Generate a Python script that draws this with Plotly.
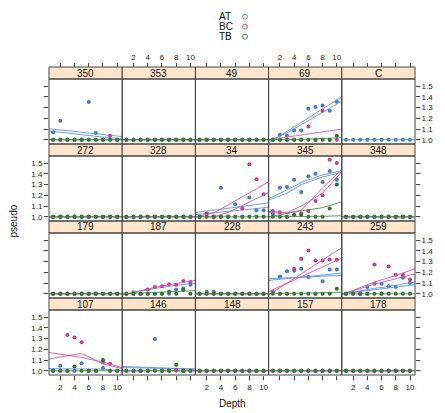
import plotly.graph_objects as go

W, H = 445, 413

# ---------------- data ----------------
panel_names = ["350", "353", "49", "69", "C",
               "272", "328", "34", "345", "348",
               "179", "187", "228", "243", "259",
               "107", "146", "148", "157", "178"]
depth = [1, 2, 3, 4, 5, 6, 7, 8, 9, 10]
groups = ["AT", "BC", "TB"]
group_colors = {"AT": "#4479c4", "BC": "#c63a9c", "TB": "#2f6f2f"}
line_colors = {"AT": "#5f93d6", "BC": "#cc58ab", "TB": "#429042"}
panel_groups = {"C": ["AT"]}          # all other panels hold all three groups
baseline = 1.0

AT_pts = {
    "350": [1.07, 1.178, 1.0, 1.0, 1.0, 1.352, 1.063, 1.0, 1.0, 1.0],
    "69":  [1.0, 1.047, 1.04, 1.087, 1.087, 1.29, 1.305, 1.32, 1.27, 1.355],
    "34":  [1.0, 1.03, 1.0, 1.27, 1.0, 1.118, 1.0, 1.18, 1.06, 1.06],
    "345": [1.025, 1.27, 1.278, 1.346, 1.23, 1.377, 1.40, 1.324, 1.426, 1.346],
    "187": [1.0, 1.015, 1.0, 1.0, 1.0, 1.0, 1.0, 1.04, 1.05, 1.085],
    "228": [1.0, 1.02, 1.02, 1.0, 1.0, 1.0, 1.0, 1.0, 1.0, 1.0],
    "243": [1.02, 1.162, 1.21, 1.215, 1.233, 1.156, 1.0, 1.116, 1.227, 1.227],
    "259": [1.0, 1.008, 1.0, 1.063, 1.094, 1.094, 1.07, 1.063, 1.15, 1.103],
    "107": [1.0, 1.046, 1.0, 1.0, 1.07, 1.0, 1.0, 1.025, 1.0, 1.0],
    "146": [1.0, 1.0, 1.0, 1.0, 1.296, 1.0, 1.0, 1.0, 1.0, 1.0],
}
BC_pts = {
    "350": [1.0, 1.0, 1.0, 1.0, 1.0, 1.0, 1.0, 1.0, 1.037, 1.0],
    "69":  [1.0, 1.0, 1.0, 1.0, 1.0, 1.125, 1.0, 1.27, 1.0, 1.0],
    "34":  [1.0, 1.03, 1.0, 1.0, 1.0, 1.0, 1.078, 1.49, 1.35, 1.21],
    "345": [1.055, 1.043, 1.0, 1.02, 1.03, 1.055, 1.148, 1.20, 1.53, 1.50],
    "187": [1.0, 1.0, 1.0, 1.04, 1.063, 1.07, 1.088, 1.085, 1.12, 1.11],
    "243": [1.017, 1.0, 1.0, 1.233, 1.326, 1.403, 1.31, 1.31, 1.32, 1.316],
    "259": [1.0, 1.0, 1.0, 1.0, 1.273, 1.0, 1.254, 1.177, 1.177, 1.133],
    "107": [1.0, 1.0, 1.333, 1.31, 1.265, 1.0, 1.0, 1.08, 1.065, 1.0],
    "146": [1.0, 1.0, 1.0, 1.0, 1.0, 1.0, 1.0, 1.01, 1.0, 1.0],
}
TB_pts = {
    "69":  [1.0, 1.0, 1.0, 1.0, 1.0, 1.0, 1.0, 1.0, 1.0, 1.037],
    "345": [1.0, 1.0, 1.0, 1.015, 1.02, 1.0, 1.0, 1.0, 1.077, 1.30],
    "187": [1.0, 1.0, 1.0, 1.0, 1.0, 1.0, 1.02, 1.0, 1.035, 1.0],
    "243": [1.0, 1.0, 1.0, 1.0, 1.0, 1.0, 1.0, 1.0, 1.0, 1.048],
    "107": [1.0, 1.0, 1.0, 1.04, 1.0, 1.0, 1.0, 1.10, 1.0, 1.0],
    "146": [1.0, 1.0, 1.0, 1.0, 1.0, 1.0, 1.0, 1.056, 1.0, 1.0],
}

# fitted curves, evaluated at line_x
line_x = [0.4, 3, 5, 8, 10.7]
AT_lines = {
    "350": [[1.103, 1.085, 1.07, 1.05, 1.03], [1.082, 1.062, 1.045, 1.025, 1.01]],
    "69":  [[0.97, 1.08, 1.165, 1.29, 1.40], [0.99, 1.065, 1.14, 1.255, 1.36]],
    "34":  [[1.04, 1.06, 1.08, 1.105, 1.13], [1.02, 1.035, 1.05, 1.07, 1.09]],
    "345": [[1.17, 1.25, 1.32, 1.39, 1.43], [1.155, 1.22, 1.30, 1.37, 1.415]],
    "187": [[0.99, 1.025, 1.05, 1.08, 1.10]],
    "243": [[1.125, 1.14, 1.155, 1.175, 1.193], [1.14, 1.148, 1.155, 1.165, 1.172]],
    "259": [[1.0, 1.03, 1.05, 1.08, 1.11], [1.0, 1.02, 1.035, 1.06, 1.085]],
    "107": [[1.02, 1.02, 1.02, 1.015, 1.0]],
    "146": [[1.04, 1.035, 1.03, 1.022, 1.016], [1.03, 1.027, 1.024, 1.02, 1.016]],
}
BC_lines = {
    "69":  [[1.0, 1.025, 1.045, 1.075, 1.10]],
    "34":  [[1.0, 1.036, 1.11, 1.225, 1.326], [1.0, 1.0, 1.04, 1.14, 1.226]],
    "345": [[1.04, 1.035, 1.06, 1.27, 1.44], [1.05, 1.04, 1.10, 1.22, 1.42]],
    "187": [[0.99, 1.03, 1.06, 1.095, 1.125]],
    "243": [[0.989, 1.10, 1.186, 1.314, 1.43], [1.019, 1.098, 1.159, 1.25, 1.332]],
    "259": [[0.99, 1.06, 1.11, 1.17, 1.233], [0.995, 1.05, 1.09, 1.14, 1.186]],
    "107": [[1.17, 1.145, 1.125, 1.08, 1.03], [1.11, 1.14, 1.162, 1.065, 1.02]],
}
TB_lines = {
    "69":  [[1.0, 1.0, 1.005, 1.012, 1.02]],
    "345": [[1.0, 1.035, 1.055, 1.085, 1.14], [1.0, 1.0, 1.0, 1.005, 1.01]],
    "187": [[1.0, 1.008, 1.013, 1.022, 1.03]],
    "243": [[1.0, 1.002, 1.005, 1.01, 1.015]],
}
pts = {"AT": AT_pts, "BC": BC_pts, "TB": TB_pts}
lines = {"AT": AT_lines, "BC": BC_lines, "TB": TB_lines}

x_ticks = [2, 4, 6, 8, 10]
y_ticks = [1.0, 1.1, 1.2, 1.3, 1.4, 1.5]
y_tick_text = ["1.0", "1.1", "1.2", "1.3", "1.4", "1.5"]
x_range = [0.41, 10.7]
y_range = [0.961, 1.566]

# ---------------- layout geometry (pixels) ----------------
LEFT, COLW = 49, 73.2
TOP, ROWH, STRIPH = 67, 77, 12
FONT = "Liberation Sans, Arial, sans-serif"
FRAME = "#444444"


def ax_id(k):
    return "" if k == 1 else str(k)


fig = go.Figure()
shapes, annotations = [], []
layout = {}

for i, name in enumerate(panel_names):
    r, c = divmod(i, 5)
    k = i + 1
    sid = ax_id(k)
    xl = LEFT + c * COLW
    xr = xl + COLW
    st = TOP + r * ROWH
    pt = st + STRIPH
    pb = st + ROWH
    xa = dict(domain=[xl / W, xr / W], range=x_range, showgrid=False, zeroline=False,
              showline=False, tickvals=x_ticks, ticktext=[str(v) for v in x_ticks],
              tickfont=dict(family=FONT, size=8, color="#222"), ticklen=4,
              tickcolor=FRAME, tickwidth=1)
    if r == 0:
        xa.update(side="top", anchor="free", position=1 - st / H, ticks="outside",
                  showticklabels=(c in (1, 3)))
    elif r == 3:
        xa.update(side="bottom", anchor=f"y{sid}", ticks="outside",
                  showticklabels=(c in (0, 2, 4)))
    else:
        xa.update(ticks="", showticklabels=False, anchor=f"y{sid}")
    ya = dict(domain=[1 - pb / H, 1 - pt / H], range=y_range, showgrid=False, zeroline=False,
              showline=False, tickvals=y_ticks, ticktext=y_tick_text,
              tickfont=dict(family=FONT, size=8, color="#222"), ticklen=4,
              tickcolor=FRAME, tickwidth=1, anchor=f"x{sid}")
    if c == 0:
        ya.update(side="left", ticks="outside", showticklabels=(r in (1, 3)))
    elif c == 4:
        ya.update(side="right", ticks="outside", showticklabels=(r in (0, 2)))
    else:
        ya.update(ticks="", showticklabels=False)
    layout[f"xaxis{sid}"] = xa
    layout[f"yaxis{sid}"] = ya

    # strip and frame
    shapes.append(dict(type="rect", xref="paper", yref="paper", x0=xl / W, x1=xr / W,
                       y0=1 - pt / H, y1=1 - st / H, fillcolor="#ffe5cc",
                       line=dict(color=FRAME, width=1), layer="below"))
    shapes.append(dict(type="rect", xref="paper", yref="paper", x0=xl / W, x1=xr / W,
                       y0=1 - pb / H, y1=1 - pt / H, fillcolor="rgba(0,0,0,0)",
                       line=dict(color=FRAME, width=1), layer="above"))
    annotations.append(dict(text=name, xref="paper", yref="paper", x=(xl + xr) / 2 / W,
                            y=1 - (st + STRIPH / 2) / H, showarrow=False,
                            xanchor="center", yanchor="middle",
                            font=dict(family=FONT, size=10, color="#111")))

    present = panel_groups.get(name, groups)
    for g in present:
        yv = pts[g].get(name, [baseline] * len(depth))
        fig.add_trace(go.Scatter(x=depth, y=yv, mode="markers", xaxis=f"x{sid}", yaxis=f"y{sid}",
                                 marker=dict(size=4, color=group_colors[g]),
                                 showlegend=False))
        for ln in lines[g].get(name, [[baseline] * len(line_x)]):
            fig.add_trace(go.Scatter(x=line_x, y=ln, mode="lines", xaxis=f"x{sid}", yaxis=f"y{sid}",
                                     line=dict(color=line_colors[g], width=0.9),
                                     showlegend=False))

# legend keys (manual, lattice style: text then symbol)
leg_y = [16.7, 26.7, 36.7]
layout["xaxis21"] = dict(domain=[0.5, 0.6], range=[0.5 * W, 0.6 * W], visible=False, anchor="y21")
layout["yaxis21"] = dict(domain=[0.88, 1], range=[H * 0.12, 0], visible=False, anchor="x21")
fig.add_trace(go.Scatter(x=[245] * 3, y=leg_y, mode="markers", xaxis="x21", yaxis="y21",
                         marker=dict(symbol="circle-open", size=5,
                                     color=[line_colors[g] for g in groups],
                                     line=dict(width=1)),
                         showlegend=False, hoverinfo="skip"))
for g, yy in zip(groups, leg_y):
    annotations.append(dict(text=g, xref="paper", yref="paper", x=216.5 / W, y=1 - yy / H,
                            showarrow=False, xanchor="left", yanchor="middle",
                            font=dict(family=FONT, size=10, color="#111")))

annotations.append(dict(text="Depth", xref="paper", yref="paper", x=232 / W, y=1 - 403 / H,
                        showarrow=False, xanchor="center", yanchor="middle",
                        font=dict(family=FONT, size=10, color="#111")))
annotations.append(dict(text="pseudo", xref="paper", yref="paper", x=12.5 / W, y=1 - 221 / H,
                        showarrow=False, xanchor="center", yanchor="middle", textangle=-90,
                        font=dict(family=FONT, size=10, color="#111")))

fig.update_layout(width=W, height=H, margin=dict(l=0, r=0, t=0, b=0),
                  paper_bgcolor="white", plot_bgcolor="rgba(0,0,0,0)", showlegend=False,
                  shapes=shapes, annotations=annotations, **layout)

fig.write_html("out.html")
